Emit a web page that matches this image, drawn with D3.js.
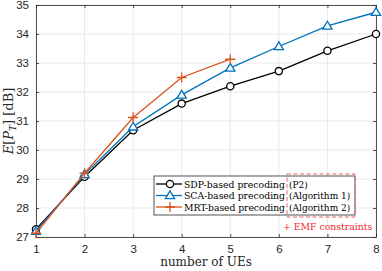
<!doctype html>
<html>
<head>
<meta charset="utf-8">
<style>
  body { margin: 0; background: #fff; }
  .tick text { font-family: "Liberation Sans", Arial, sans-serif; font-size: 11.5px; fill: #262626; }
  .serif { font-family: "DejaVu Serif", serif; }
</style>
</head>
<body>
<svg width="382" height="271"></svg>
<script src="https://cdn.jsdelivr.net/npm/d3@7"></script>
<script>
var ues = [1, 2, 3, 4, 5, 6, 7, 8];
var sdp = [27.27, 29.08, 30.68, 31.6, 32.2, 32.72, 33.42, 34.0];
var sca = [27.2, 29.16, 30.8, 31.9, 32.83, 33.57, 34.28, 34.75];
var mrt = [27.13, 29.2, 31.12, 32.5, 33.13];
var mrtUes = [1, 2, 3, 4, 5];
var yTicks = [27, 28, 29, 30, 31, 32, 33, 34, 35];
var legendNames = ["SDP-based precoding", "SCA-based precoding", "MRT-based precoding"];
var legendNotes = ["(P2)", "(Algorithm 1)", "(Algorithm 2)"];

var svg = d3.select("svg"),
    margin = {top: 5, right: 6, bottom: 34, left: 36},
    width = +svg.attr("width") - margin.left - margin.right,
    height = +svg.attr("height") - margin.top - margin.bottom,
    g = svg.append("g").attr("transform", "translate(" + margin.left + "," + margin.top + ")");

var x = d3.scaleLinear().domain([1, 8]).range([0, width]);
var y = d3.scaleLinear().domain([27, 35]).range([height, 0]);

// grid
g.append("g").selectAll("line").data(ues).enter().append("line")
    .attr("x1", d => x(d)).attr("x2", d => x(d))
    .attr("y1", 0).attr("y2", height)
    .attr("stroke", "#e3e3e3").attr("stroke-width", 0.8);
g.append("g").selectAll("line").data(yTicks).enter().append("line")
    .attr("y1", d => y(d)).attr("y2", d => y(d))
    .attr("x1", 0).attr("x2", width)
    .attr("stroke", "#e3e3e3").attr("stroke-width", 0.8);

// axes
g.append("g")
    .attr("transform", "translate(0," + height + ")")
    .call(d3.axisBottom(x).tickValues(ues).tickFormat(d3.format("d")).tickSizeInner(-3).tickSizeOuter(0).tickPadding(8));
g.append("g")
    .call(d3.axisLeft(y).tickValues(yTicks).tickFormat(d3.format("d")).tickSizeInner(-3).tickSizeOuter(0).tickPadding(7));
g.append("g").call(d3.axisTop(x).tickValues(ues).tickSizeInner(-3).tickSizeOuter(0).tickFormat(""));
g.append("g").attr("transform", "translate(" + width + ",0)")
    .call(d3.axisRight(y).tickValues(yTicks).tickSizeInner(-3).tickSizeOuter(0).tickFormat(""));
g.selectAll(".domain").attr("stroke", "#262626").attr("stroke-width", 0.8);
g.selectAll(".tick line").attr("stroke", "#262626").attr("stroke-width", 0.8);

// labels
svg.append("text").attr("class", "serif")
    .attr("x", margin.left + width / 2).attr("y", 266)
    .attr("text-anchor", "middle").attr("font-size", 12).attr("fill", "#262626")
    .text("number of UEs");
var yl = svg.append("text").attr("class", "serif")
    .attr("transform", "translate(13," + (margin.top + height / 2) + ") rotate(-90)")
    .attr("text-anchor", "middle").attr("font-size", 13).attr("fill", "#262626");
yl.append("tspan").attr("font-style", "italic").text("E");
yl.append("tspan").text("[");
yl.append("tspan").attr("font-style", "italic").text("P");
yl.append("tspan").attr("font-style", "italic").attr("font-size", 9).attr("dy", 3).text("T");
yl.append("tspan").attr("dy", -3).text("] [dB]");

var line = d3.line().x(d => x(d[0])).y(d => y(d[1]));

function drawMarker(sel, cx, cy, color, marker) {
  if (marker === "circle") {
    sel.append("circle").attr("cx", cx).attr("cy", cy).attr("r", 3.6)
      .attr("fill", "#fff").attr("stroke", color).attr("stroke-width", 1.3);
  } else if (marker === "triangle") {
    var s = 4.6;
    sel.append("path")
      .attr("d", "M" + cx + "," + (cy - s) + "L" + (cx + s) + "," + (cy + s * 0.7) + "L" + (cx - s) + "," + (cy + s * 0.7) + "Z")
      .attr("fill", "#fff").attr("stroke", color).attr("stroke-width", 1.3);
  } else {
    var s2 = 5;
    sel.append("path")
      .attr("d", "M" + (cx - s2) + "," + cy + "H" + (cx + s2) + "M" + cx + "," + (cy - s2) + "V" + (cy + s2))
      .attr("fill", "none").attr("stroke", color).attr("stroke-width", 1.3);
  }
}

function series(xs, ys, color, marker) {
  var pts = ys.map((v, i) => [xs[i], v]);
  g.append("path").datum(pts)
    .attr("fill", "none").attr("stroke", color).attr("stroke-width", 1.3)
    .attr("d", line);
  pts.forEach(p => drawMarker(g, x(p[0]), y(p[1]), color, marker));
}

series(ues, sdp, "#000000", "circle");
series(ues, sca, "#0072BD", "triangle");
series(mrtUes, mrt, "#D95319", "plus");

// legend
var lg = svg.append("g");
lg.append("rect").attr("x", 154).attr("y", 176).attr("width", 201).attr("height", 39)
  .attr("fill", "#fff").attr("stroke", "#262626").attr("stroke-width", 0.8);
var colors = ["#000000", "#0072BD", "#D95319"];
var markers = ["circle", "triangle", "plus"];
legendNames.forEach(function(name, i) {
  var ly = 184 + i * 11.5;
  lg.append("line").attr("x1", 156).attr("x2", 182).attr("y1", ly).attr("y2", ly)
    .attr("stroke", colors[i]).attr("stroke-width", 1.3);
  drawMarker(lg, 170, ly, colors[i], markers[i]);
  lg.append("text").attr("class", "serif").attr("x", 184).attr("y", ly + 3.5)
    .attr("font-size", 9.3).attr("textLength", 101).attr("lengthAdjust", "spacing")
    .attr("fill", "#000").text(name);
  lg.append("text").attr("class", "serif").attr("x", 289).attr("y", ly + 3.5)
    .attr("font-size", 9).attr("fill", "#000").text(legendNotes[i]);
});
lg.append("rect").attr("x", 287).attr("y", 174).attr("width", 68).attr("height", 43)
  .attr("fill", "none").attr("stroke", "#e8646a").attr("stroke-width", 1)
  .attr("stroke-dasharray", "4,2.5");
lg.append("text").attr("class", "serif").attr("x", 283).attr("y", 229.5)
  .attr("font-size", 9.3).attr("fill", "#f0282d").text("+ EMF constraints");
</script>
</body>
</html>
